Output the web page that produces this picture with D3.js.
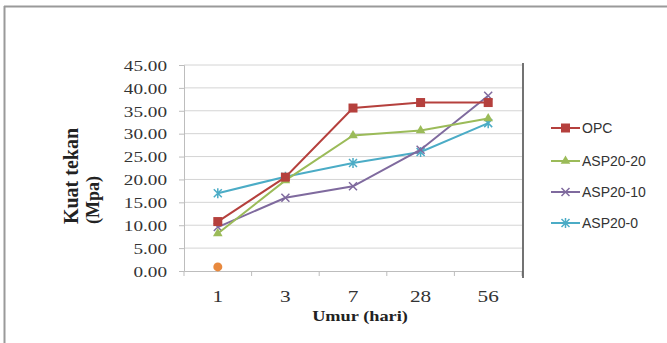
<!DOCTYPE html>
<html><head><meta charset="utf-8">
<script src="https://cdn.jsdelivr.net/npm/d3@7/dist/d3.min.js"></script>
<style>body{margin:0;background:#fff}svg{display:block}</style>
</head><body>
<svg id="c" width="667" height="343"></svg>
<script>
const categories = ["1","3","7","28","56"];
const seriesNames = ["OPC","ASP20-20","ASP20-10","ASP20-0"];
const opc = [10.8, 20.5, 35.6, 36.8, 36.8];
const asp20_20 = [8.2, 19.8, 29.6, 30.7, 33.3];
const asp20_10 = [9.6, 16.0, 18.5, 26.5, 38.3];
const asp20_0 = [17.0, 20.6, 23.6, 26.0, 32.3];
const extraPoint = [0.9]; // unlabelled orange point at day 1
const yTicks = [0,5,10,15,20,25,30,35,40,45];
const colors = ["#B5403D","#9BBB59","#7F6A9E","#4BACC6"];
const allSeries = [opc, asp20_20, asp20_10, asp20_0];

const svg = d3.select("#c");
const serif = "'Liberation Serif','Times New Roman',serif";
// outer frame (top & left)
svg.append("line").attr("x1",4).attr("x2",667).attr("y1",6.5).attr("y2",6.5).attr("stroke","#9a9a9a").attr("stroke-width",2);
svg.append("line").attr("x1",4.5).attr("x2",4.5).attr("y1",6).attr("y2",343).attr("stroke","#9a9a9a").attr("stroke-width",2);

const L=184, R=522, T=65, B=271;
const x = d3.scaleBand().domain(categories).range([L,R]);
const y = d3.scaleLinear().domain([0,45]).range([B,T]);

// gridlines
svg.append("g").selectAll("line").data(yTicks.filter(d=>d>0)).join("line")
  .attr("x1",L).attr("x2",R).attr("y1",d=>y(d)).attr("y2",d=>y(d))
  .attr("stroke","#d4d4d4").attr("stroke-width",1);

// y axis
const ya = svg.append("g").attr("transform",`translate(${L},0)`)
  .call(d3.axisLeft(y).tickValues(yTicks).tickFormat(d3.format(".2f")).tickSize(5));
ya.select(".domain").attr("stroke","#bdbdbd");
ya.selectAll(".tick line").attr("stroke","#bdbdbd");
ya.selectAll("text").attr("x",0).attr("dy","0.35em").attr("text-anchor","end")
  .attr("transform","translate(-17,0) scale(1.28,1)")
  .attr("font-family",serif).attr("font-size",15).attr("fill","#333");

// x axis
const xa = svg.append("g").attr("transform",`translate(0,${B})`)
  .call(d3.axisBottom(x).tickSize(0));
xa.select(".domain").attr("stroke","#bdbdbd");
xa.selectAll("text").attr("y",0).attr("dy",0).attr("text-anchor","middle")
  .attr("transform","translate(0,31) scale(1.25,1)")
  .attr("font-family",serif).attr("font-size",17).attr("fill","#333");
svg.append("g").selectAll("line").data(d3.range(categories.length+1)).join("line")
  .attr("x1",i=>L+i*x.step()).attr("x2",i=>L+i*x.step()).attr("y1",B).attr("y2",B+5)
  .attr("stroke","#bdbdbd");

// right border line of plot
svg.append("line").attr("x1",R+1).attr("x2",R+1).attr("y1",63).attr("y2",278).attr("stroke","#444").attr("stroke-width",1.5);

// axis titles
svg.append("text").attr("transform","translate(78,176) rotate(-90)")
  .attr("text-anchor","middle").attr("font-family",serif).attr("font-weight","bold").attr("font-size",20).attr("fill","#222").text("Kuat tekan");
svg.append("text").attr("transform","translate(99,200) rotate(-90)")
  .attr("text-anchor","middle").attr("font-family",serif).attr("font-weight","bold").attr("font-size",18).attr("fill","#222").text("(Mpa)");
svg.append("text").attr("transform","translate(360,321) scale(1.22,1)").attr("text-anchor","middle")
  .attr("font-family",serif).attr("font-weight","bold").attr("font-size",15).attr("fill","#222").text("Umur (hari)");

const cx = c => x(c)+x.bandwidth()/2;
const line = d3.line().x((d,i)=>cx(categories[i])).y(d=>y(d));

function marker(g, type, px, py, color){
  if(type===0){
    g.append("rect").attr("x",px-4.5).attr("y",py-4.5).attr("width",9).attr("height",9).attr("fill",color);
  } else if(type===1){
    g.append("path").attr("d",d3.symbol(d3.symbolTriangle,40)()).attr("transform",`translate(${px},${py})`).attr("fill",color);
  } else if(type===2){
    g.append("path").attr("d",`M${px-4},${py-4}L${px+4},${py+4}M${px-4},${py+4}L${px+4},${py-4}`).attr("stroke",color).attr("stroke-width",1.5);
  } else {
    g.append("path").attr("d",`M${px-4},${py-4}L${px+4},${py+4}M${px-4},${py+4}L${px+4},${py-4}M${px},${py-5}L${px},${py+5}`).attr("stroke",color).attr("stroke-width",1.5);
  }
}

// draw series (back to front)
[3,2,1,0].forEach(si=>{
  const g = svg.append("g");
  g.append("path").datum(allSeries[si]).attr("d",line).attr("fill","none").attr("stroke",colors[si]).attr("stroke-width",2);
  allSeries[si].forEach((v,i)=>marker(g, si, cx(categories[i]), y(v), colors[si]));
});

// extra orange point
svg.append("g").selectAll("circle").data(extraPoint).join("circle")
  .attr("cx",(d,i)=>cx(categories[i])).attr("cy",d=>y(d)).attr("r",4.5).attr("fill","#E8893E");

// legend
const lg = svg.append("g");
const ly = [128,161,192,223];
seriesNames.forEach((n,i)=>{
  const g = lg.append("g");
  g.append("line").attr("x1",551).attr("x2",580).attr("y1",ly[i]).attr("y2",ly[i]).attr("stroke",colors[i]).attr("stroke-width",2);
  marker(g, i, 565.5, ly[i], colors[i]);
  g.append("text").attr("x",582).attr("y",ly[i]+5).attr("font-family","'Liberation Sans','Open Sans',sans-serif").attr("font-size",14).attr("fill","#333").text(n);
});
</script>
</body></html>
